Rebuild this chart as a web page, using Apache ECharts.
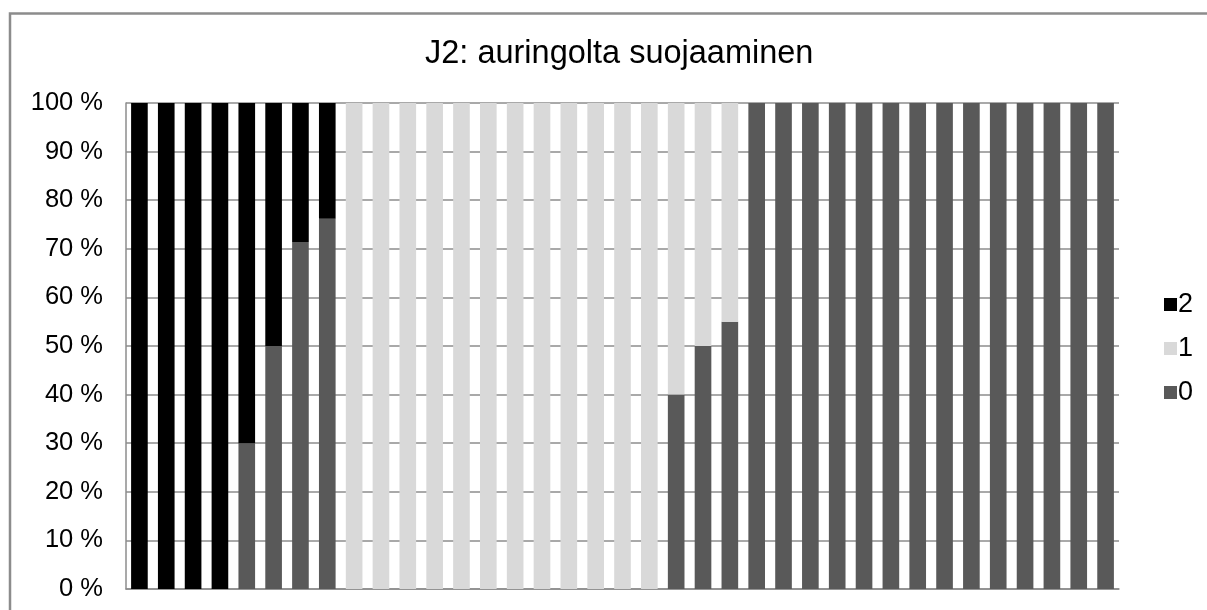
<!DOCTYPE html>
<html>
<head>
<meta charset="utf-8">
<script src="https://cdn.jsdelivr.net/npm/echarts@6/dist/echarts.min.js"></script>
<style>
html,body{margin:0;padding:0;background:#fff;}
#chart{width:1207px;height:610px;}
</style>
</head>
<body>
<div id="chart"></div>
<script>
var titleText = 'J2: auringolta suojaaminen';
var categories = [];
for (var i = 1; i <= 37; i++) categories.push(String(i));
var seriesNames = ['0', '1', '2'];
var values0 = [0,0,0,0,30,50,71.4,76.2, 0,0,0,0,0,0,0,0,0,0,0,0, 40,50,55, 100,100,100,100,100,100,100,100,100,100,100,100,100,100];
var values1 = [0,0,0,0,0,0,0,0, 100,100,100,100,100,100,100,100,100,100,100,100, 60,50,45, 0,0,0,0,0,0,0,0,0,0,0,0,0,0];
var values2 = [100,100,100,100,70,50,28.6,23.8, 0,0,0,0,0,0,0,0,0,0,0,0, 0,0,0, 0,0,0,0,0,0,0,0,0,0,0,0,0,0];
var yTicks = [0,10,20,30,40,50,60,70,80,90,100];

var colors = {'0':'#595959','1':'#d9d9d9','2':'#000000'};
var dataMap = {'0':values0,'1':values1,'2':values2};
var font = '"Liberation Sans", Arial, sans-serif';

var chart = echarts.init(document.getElementById('chart'));
chart.setOption({
  animation: false,
  backgroundColor: '#ffffff',
  title: {
    text: titleText,
    left: 420,
    top: 33,
    textStyle: {fontFamily: font, fontSize: 32.5, fontWeight: 'normal', color: '#000'}
  },
  graphic: [{
    type: 'rect',
    shape: {x: 10, y: 13.5, width: 1250, height: 700},
    style: {fill: 'none', stroke: '#8c8c8c', lineWidth: 2.5},
    silent: true
  }],
  legend: {
    orient: 'vertical',
    left: 1159,
    top: 286,
    data: ['2','1','0'],
    icon: 'rect',
    itemWidth: 13,
    itemHeight: 13,
    itemGap: 17,
    textStyle: {fontFamily: font, fontSize: 27, color: '#000', padding: [0,0,0,-4]}
  },
  grid: {left: 126, right: 88, top: 103, bottom: 21, containLabel: false},
  xAxis: {
    type: 'category',
    data: categories,
    axisLine: {show: true, lineStyle: {color: '#8c8c8c', width: 1.5}},
    axisTick: {show: false},
    axisLabel: {show: false},
    splitLine: {show: false}
  },
  yAxis: {
    type: 'value',
    min: yTicks[0],
    max: yTicks[yTicks.length-1],
    interval: 10,
    axisLine: {show: true, lineStyle: {color: '#8c8c8c', width: 1.5}},
    axisTick: {show: false},
    axisLabel: {
      fontFamily: font, fontSize: 25.5, color: '#000', margin: 23,
      formatter: function(v){ return v + ' %'; }
    },
    splitLine: {show: true, lineStyle: {color: '#8c8c8c', width: 1.5}}
  },
  series: seriesNames.map(function(n){
    return {
      name: n,
      type: 'bar',
      stack: 'total',
      data: dataMap[n],
      barCategoryGap: '38%',
      itemStyle: {color: colors[n]}
    };
  })
});
</script>
</body>
</html>
